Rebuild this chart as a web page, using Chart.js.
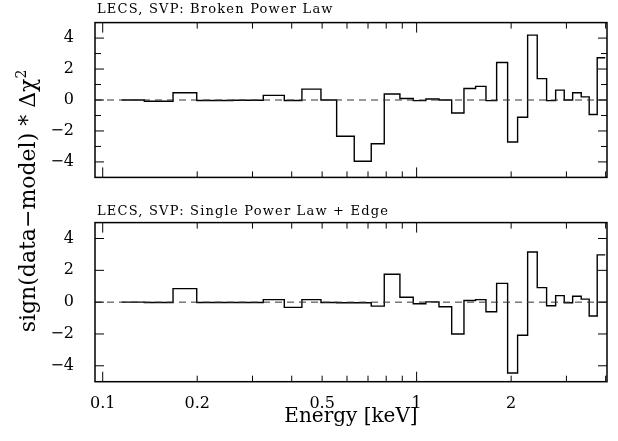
<!DOCTYPE html>
<html>
<head>
<meta charset="utf-8">
<script src="https://cdn.jsdelivr.net/npm/chart.js@4.4.0/dist/chart.umd.min.js"></script>
<style>
body { margin: 0; background: #fff; font-family: 'DejaVu Serif', serif; color: #000; }
#wrap { position: relative; width: 618px; height: 441px; overflow: hidden; }
canvas { position: absolute; left: 0; }
#c1 { top: 0; }
#c2 { top: 200px; }
.ttl { position: absolute; left: 97px; font-size: 13px; line-height: 13px; letter-spacing: 1.2px; white-space: nowrap; }
#ylab { position: absolute; left: -121.6px; top: 190px; width: 300px; height: 22px; line-height: 22px;
        font-size: 22px; text-align: center; white-space: nowrap; transform: rotate(-90deg); }
#ylab span { font-size: 14px; position: relative; top: -9px; }
</style>
</head>
<body>
<div id="wrap">
  <canvas id="c1" width="618" height="200"></canvas>
  <canvas id="c2" width="618" height="241"></canvas>
  <div class="ttl" style="top:2px">LECS, SVP: Broken Power Law</div>
  <div class="ttl" style="top:204px">LECS, SVP: Single Power Law + Edge</div>
  <div id="ylab">sign(data−model) * Δχ<span>2</span></div>
</div>
<script>
// bin edges in keV (shared by both panels)
var binEdges = [0.1149, 0.1357, 0.1675, 0.1993, 0.26, 0.3247, 0.3788, 0.4311, 0.4957, 0.5561,
  0.6328, 0.7168, 0.7886, 0.8846, 0.9754, 1.070, 1.178, 1.293, 1.415, 1.541, 1.663, 1.798,
  1.949, 2.097, 2.257, 2.422, 2.594, 2.772, 2.952, 3.140, 3.344, 3.545, 3.760, 3.987]

// sign(data-model) * delta chi^2 per bin
var brokenPL = [0.0, -0.08, 0.47, -0.03, -0.02, 0.3, -0.03, 0.7, 0.0, -2.34,
  -3.96, -2.83, 0.39, 0.1, -0.04, 0.06, 0.0, -0.84, 0.74, 0.88, -0.04, 2.42,
  -2.71, -1.11, 4.19, 1.38, -0.04, 0.64, 0.0, 0.47, 0.2, -0.94, 2.73]
var singlePLEdge = [0.0, -0.02, 0.85, -0.02, -0.02, 0.16, -0.33, 0.16, -0.02, -0.04,
  -0.04, -0.25, 1.75, 0.31, -0.1, 0.02, -0.29, -2.0, 0.1, 0.16, -0.6, 1.18,
  -4.45, -2.08, 3.15, 0.91, -0.23, 0.41, -0.04, 0.37, 0.19, -0.87, 2.97]

var xRange = [0.0945, 4.04]
var yRange = [-5, 5]
var xTicks = [0.1, 0.2, 0.3, 0.4, 0.5, 0.6, 0.7, 0.8, 0.9, 1, 2, 3, 4]
var xLabels = [0.1, 0.2, 0.5, 1, 2]
var yTicks = [-4, -3, -2, -1, 0, 1, 2, 3, 4]
var yLabels = [-4, -2, 0, 2, 4]

Chart.defaults.font.family = "'DejaVu Serif', serif"
Chart.defaults.color = '#000'

function histPoints(vals) {
  var pts = []
  for (var i = 0; i < vals.length; i++) {
    pts.push({x: binEdges[i], y: vals[i]})
    pts.push({x: binEdges[i + 1], y: vals[i]})
  }
  return pts
}

function isDecade(v) {
  var l = Math.log10(v)
  return Math.abs(l - Math.round(l)) < 1e-6
}

// box round the plot with ticks pointing inwards on all four sides
var frameTicks = {
  id: 'frameTicks',
  afterDraw: function(chart) {
    var ctx = chart.ctx, a = chart.chartArea
    var x = chart.scales.x, y = chart.scales.y
    ctx.save()
    ctx.strokeStyle = '#000'
    ctx.lineWidth = 1
    ctx.beginPath()
    x.ticks.forEach(function(t) {
      var px = x.getPixelForValue(t.value)
      var len = isDecade(t.value) ? 10 : 6
      ctx.moveTo(px, a.bottom); ctx.lineTo(px, a.bottom - len)
      ctx.moveTo(px, a.top); ctx.lineTo(px, a.top + len)
    })
    y.ticks.forEach(function(t) {
      var py = y.getPixelForValue(t.value)
      var len = t.value % 2 == 0 ? 9 : 6
      ctx.moveTo(a.left, py); ctx.lineTo(a.left + len, py)
      ctx.moveTo(a.right, py); ctx.lineTo(a.right - len, py)
    })
    ctx.stroke()
    ctx.lineWidth = 1.5
    ctx.strokeRect(a.left, a.top, a.right - a.left, a.bottom - a.top)
    ctx.restore()
  }
}

function makeChart(id, vals, bottomPanel, padTop) {
  return new Chart(document.getElementById(id), {
    type: 'line',
    data: {
      datasets: [{
        data: [{x: xRange[0], y: 0}, {x: xRange[1], y: 0}],
        borderColor: '#333',
        borderWidth: 1,
        borderDash: [7, 5],
        pointRadius: 0
      }, {
        data: histPoints(vals),
        borderColor: '#000',
        borderWidth: 1.4,
        pointRadius: 0,
        tension: 0
      }]
    },
    options: {
      responsive: false,
      animation: false,
      devicePixelRatio: 1,
      events: [],
      layout: {padding: {top: padTop, right: 11, left: 0, bottom: 0}},
      plugins: {legend: {display: false}, tooltip: {enabled: false}},
      scales: {
        x: {
          type: 'logarithmic',
          min: xRange[0],
          max: xRange[1],
          bounds: 'data',
          grid: {display: false},
          border: {display: false},
          afterBuildTicks: function(s) { s.ticks = xTicks.map(function(v) { return {value: v} }) },
          afterFit: function(s) { s.height = bottomPanel ? 59.3 : 21 },
          ticks: {
            display: bottomPanel,
            autoSkip: false,
            maxRotation: 0,
            padding: 5,
            font: {size: 16},
            callback: function(v) { return xLabels.indexOf(v) >= 0 ? String(v) : '' }
          },
          title: {
            display: bottomPanel,
            text: 'Energy [keV]',
            font: {size: 20},
            padding: {top: 0, bottom: 12}
          }
        },
        y: {
          min: yRange[0],
          max: yRange[1],
          grid: {display: false},
          border: {display: false},
          afterBuildTicks: function(s) { s.ticks = yTicks.map(function(v) { return {value: v} }) },
          afterFit: function(s) { s.width = 95 },
          ticks: {
            padding: 13,
            font: {size: 16},
            callback: function(v) {
              if (yLabels.indexOf(v) < 0) return ''
              return v < 0 ? '\u2212' + Math.abs(v) : String(v)
            }
          }
        }
      }
    },
    plugins: [frameTicks]
  })
}

// top panel area: y 18..179, bottom panel: y 221..382
var c1 = makeChart('c1', brokenPL, false, 18)
var c2 = makeChart('c2', singlePLEdge, true, 21)
</script>
</body>
</html>
